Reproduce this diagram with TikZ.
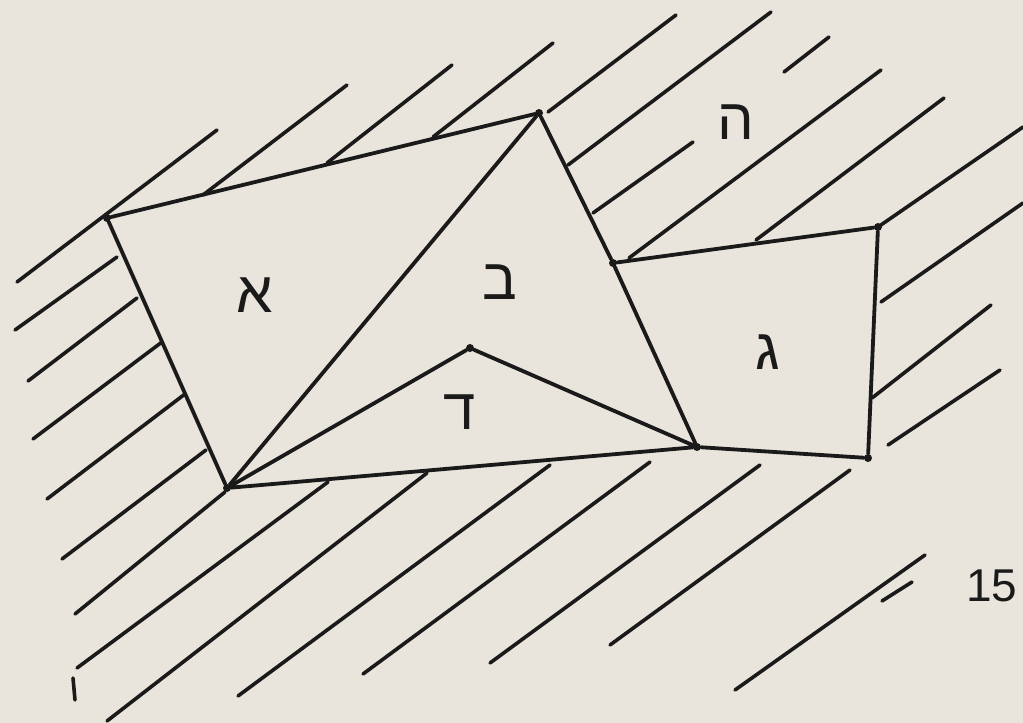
\documentclass[tikz,border=0pt]{standalone}
\usepackage{fontspec}
\setmainfont{Liberation Sans}
\newfontfamily\hebfont[Script=Hebrew]{Liberation Sans}
\TeXXeTstate=1
\definecolor{paper}{HTML}{E9E5DC}
\definecolor{ink}{HTML}{1A1A1A}
\begin{document}
\begin{tikzpicture}[x=1pt,y=-1pt,
  edge/.style={ink,line width=3.8pt,line cap=round,line join=round},
  hatch/.style={ink,line width=3.6pt,line cap=round},
  vtx/.style={circle,fill=ink,inner sep=0pt,minimum size=8pt},
  lab/.style={ink,font=\hebfont\fontsize{58}{60}\selectfont,inner sep=0pt}]
\fill[paper] (0,0) rectangle (1023,723);
\useasboundingbox (0,0) rectangle (1023,723);
% vertices
\node[vtx] (A) at (107,218) {};
\node[vtx] (B) at (539,113) {};
\node[vtx] (C) at (227,488) {};
\node[vtx] (D) at (470,348) {};
\node[vtx] (E) at (697,447) {};
\node[vtx] (F) at (613,263) {};
\node[vtx] (G) at (878,227) {};
\node[vtx] (H) at (868,458) {};
% edges
\draw[edge] (A) -- (B) -- (F) -- (E);
\draw[edge] (A) -- (C) -- (B);
\draw[edge] (C) -- (D) -- (E) -- (C);
\draw[edge] (F) -- (G) -- (H) -- (E);
% hatching, top
\draw[hatch] (17,282) -- (217,130);
\draw[hatch] (203,195) -- (347,85);
\draw[hatch] (327,163) -- (452,65);
\draw[hatch] (433,137) -- (553,43);
\draw[hatch] (548,112) -- (676,15);
\draw[hatch] (568,165) -- (771,12);
\draw[hatch] (593,213) -- (693,142);
\draw[hatch] (784,72) -- (829,37);
\draw[hatch] (629,258) -- (881,70);
\draw[hatch] (756,240) -- (944,98);
\draw[hatch] (878,227) -- (1023,127);
\draw[hatch] (881,302) -- (1023,203);
\draw[hatch] (872,398) -- (991,305);
\draw[hatch] (888,445) -- (1000,370);
% hatching, left
\draw[hatch] (15,330) -- (117,257);
\draw[hatch] (28,381) -- (137,298);
\draw[hatch] (33,439) -- (162,342);
\draw[hatch] (47,499) -- (185,394);
\draw[hatch] (62,559) -- (206,450);
\draw[hatch] (75,614) -- (225,492);
% hatching, bottom
\draw[hatch] (77,668) -- (328,482);
\draw[hatch] (107,721) -- (427,473);
\draw[hatch] (238,696) -- (550,465);
\draw[hatch] (363,674) -- (650,462);
\draw[hatch] (490,663) -- (760,465);
\draw[hatch] (610,645) -- (850,470);
\draw[hatch] (735,690) -- (925,555);
\draw[hatch] (882,601) -- (912,582);
\draw[hatch] (73,678) -- (75,700);
% labels
\node[lab] (la) at (255,295) {\beginR א\endR};
\node[lab] (lb) at (500,282) {\beginR ב\endR};
\node[lab] (lg) at (768,352) {\beginR ג\endR};
\node[lab] (ld) at (460,412) {\beginR ד\endR};
\node[lab] (lh) at (736,122) {\beginR ה\endR};
\node[ink,font=\fontsize{46}{48}\selectfont,inner sep=0pt,anchor=west] (num) at (966,586) {15};
\end{tikzpicture}
\end{document}
